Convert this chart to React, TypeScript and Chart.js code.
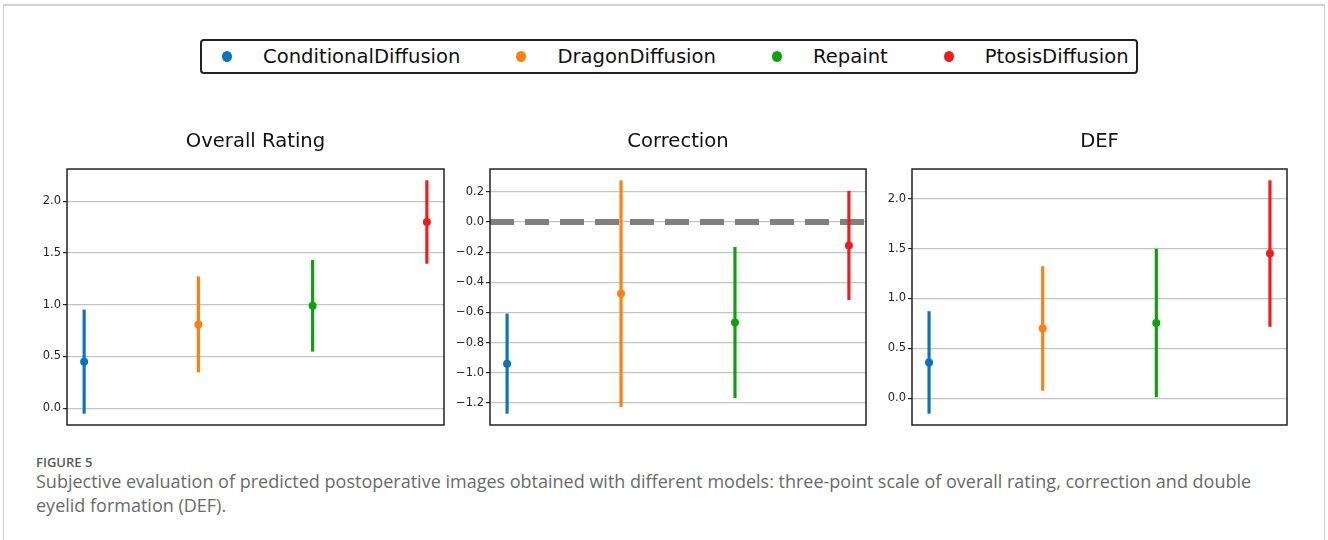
import React, { useEffect, useRef } from 'react';
import { Chart, registerables } from 'chart.js';

Chart.register(...registerables);

// ---------- data ----------
const categories = ['ConditionalDiffusion', 'DragonDiffusion', 'Repaint', 'PtosisDiffusion'];
const seriesColors = ['#0b72bc', '#ff7f0e', '#0ea00e', '#f01c1c'];
const positions = [0, 1, 2, 3];

const overallMean = [0.45, 0.81, 0.99, 1.8];
const overallErr = [0.5, 0.46, 0.44, 0.4];

const correctionMean = [-0.94, -0.475, -0.667, -0.155];
const correctionErr = [0.33, 0.75, 0.5, 0.36];

const defMean = [0.36, 0.7, 0.755, 1.45];
const defErr = [0.51, 0.62, 0.74, 0.73];

const overallTicks = [0, 0.5, 1.0, 1.5, 2.0];
const correctionTicks = [-1.2, -1.0, -0.8, -0.6, -0.4, -0.2, 0, 0.2];
const defTicks = [0, 0.5, 1.0, 1.5, 2.0];

const correctionReference = 0;

// ---------- layout constants ----------
const AXIS_W = 46;
const PAD_R = 4;
const PAD_B = 4;
const CANVAS_TOP = 120;
const PLOT_BOTTOM = 425;

const fmt = (v: number) => {
  const s = Math.abs(v).toFixed(1);
  return v < -1e-9 ? '\u2212' + s : s;
};

const framePlugin = {
  id: 'frame',
  afterDatasetsDraw(chart: any) {
    const { ctx, chartArea } = chart;
    const { left, top, right, bottom } = chartArea;
    ctx.save();
    ctx.strokeStyle = '#222222';
    ctx.lineWidth = 1.5;
    ctx.strokeRect(left, top, right - left, bottom - top);
    ctx.restore();
  },
};

type PanelProps = {
  title: string;
  mean: number[];
  err: number[];
  ticks: number[];
  refLine?: number;
  plotLeft: number;
  plotRight: number;
};

function Panel({ title, mean, err, ticks, refLine, plotLeft, plotRight }: PanelProps) {
  const ref = useRef<HTMLCanvasElement>(null);
  const width = AXIS_W + (plotRight - plotLeft) + PAD_R;
  const height = PLOT_BOTTOM + PAD_B - CANVAS_TOP;

  useEffect(() => {
    if (!ref.current) return;
    const lows = mean.map((m, i) => m - err[i]);
    const highs = mean.map((m, i) => m + err[i]);
    const lo = Math.min(...lows);
    const hi = Math.max(...highs);
    const yPad = (hi - lo) * 0.05;
    const xSpan = positions[positions.length - 1] - positions[0];
    const xMin = positions[0] - xSpan * 0.05;
    const xMax = positions[positions.length - 1] + xSpan * 0.05;

    const datasets: any[] = [
      {
        type: 'scatter',
        label: 'mean',
        data: positions.map((x, i) => ({ x, y: mean[i] })),
        pointRadius: 4,
        pointHoverRadius: 4,
        pointBackgroundColor: seriesColors,
        pointBorderWidth: 0,
        order: 1,
      },
      {
        type: 'bar',
        label: 'err',
        data: positions.map((x, i) => ({ x, y: [lows[i], highs[i]] })),
        backgroundColor: seriesColors,
        borderWidth: 0,
        barThickness: 2.5,
        grouped: false,
        order: 2,
      },
    ];
    if (refLine !== undefined) {
      datasets.push({
        type: 'line',
        label: 'ref',
        data: [
          { x: xMin, y: refLine },
          { x: xMax, y: refLine },
        ],
        borderColor: '#808080',
        borderWidth: 6,
        borderDash: [24, 11],
        borderCapStyle: 'butt',
        pointRadius: 0,
        fill: false,
        order: 3,
        clip: 0,
      });
    }

    const chart = new Chart(ref.current, {
      type: 'bar',
      data: { labels: categories, datasets },
      plugins: [framePlugin],
      options: {
        animation: false,
        responsive: false,
        maintainAspectRatio: false,
        events: [],
        layout: { padding: { left: 0, right: PAD_R, top: 0, bottom: PAD_B } },
        plugins: {
          legend: { display: false },
          tooltip: { enabled: false },
          title: {
            display: true,
            text: title,
            fullSize: false,
            color: '#111111',
            font: { family: 'DejaVu Sans', size: 19.6, weight: 'normal' },
            padding: { top: 10.5, bottom: 15 },
          },
        },
        scales: {
          x: {
            type: 'linear',
            min: xMin,
            max: xMax,
            offset: false,
            display: false,
          },
          y: {
            type: 'linear',
            min: lo - yPad,
            max: hi + yPad,
            afterBuildTicks: (s: any) => {
              s.ticks = ticks.map((v) => ({ value: v }));
            },
            afterFit: (s: any) => {
              s.width = AXIS_W;
              s.paddingTop = 0;
              s.paddingBottom = 0;
            },
            border: { display: false },
            grid: {
              color: '#c4c4c4',
              lineWidth: 1.2,
              tickLength: 4,
              tickColor: '#222222',
              tickWidth: 1.2,
              drawTicks: true,
            },
            ticks: {
              color: '#262626',
              font: { family: 'DejaVu Sans', size: 11.5 },
              padding: 2,
              callback: (v: any) => fmt(Number(v)),
            },
          },
        },
      } as any,
    });
    return () => chart.destroy();
  }, []);

  return (
    <canvas
      ref={ref}
      width={width}
      height={height}
      style={{
        position: 'absolute',
        left: plotLeft - AXIS_W,
        top: CANVAS_TOP,
        width,
        height,
      }}
    />
  );
}

export default function App() {
  return (
    <div
      style={{
        position: 'absolute',
        left: 0,
        top: 0,
        width: 1328,
        height: 540,
        background: '#ffffff',
        overflow: 'hidden',
        fontFamily: 'DejaVu Sans',
      }}
    >
      <div
        style={{
          position: 'absolute',
          left: 3,
          top: 4,
          width: 1322,
          height: 560,
          borderTop: '2px solid #d2d2d2',
          borderLeft: '1px solid #d2d2d2',
          borderRight: '1px solid #d2d2d2',
          boxSizing: 'border-box',
        }}
      />
      <div
        style={{
          position: 'absolute',
          left: 200,
          top: 39,
          width: 938,
          height: 35,
          boxSizing: 'border-box',
          border: '2px solid #222222',
          borderRadius: 4,
          display: 'flex',
          alignItems: 'center',
          paddingLeft: 20,
          fontFamily: 'DejaVu Sans',
          fontSize: 19.6,
          color: '#111111',
          whiteSpace: 'nowrap',
        }}
      >
        {categories.map((c, i) => (
          <div key={c} style={{ display: 'flex', alignItems: 'center', marginLeft: i === 0 ? 0 : 56 }}>
            <span
              style={{
                display: 'inline-block',
                width: 10,
                height: 11,
                borderRadius: '50%',
                background: seriesColors[i],
                marginRight: 31,
              }}
            />
            <span>{c}</span>
          </div>
        ))}
      </div>

      <Panel title="Overall Rating" mean={overallMean} err={overallErr} ticks={overallTicks} plotLeft={67} plotRight={444} />
      <Panel
        title="Correction"
        mean={correctionMean}
        err={correctionErr}
        ticks={correctionTicks}
        refLine={correctionReference}
        plotLeft={490}
        plotRight={866}
      />
      <Panel title="DEF" mean={defMean} err={defErr} ticks={defTicks} plotLeft={912} plotRight={1287} />

      <div
        style={{
          position: 'absolute',
          left: 36,
          top: 452,
          fontFamily: 'Open Sans',
          fontWeight: 600,
          fontSize: 13,
          lineHeight: '20px',
          color: '#5a5a5a',
        }}
      >
        FIGURE 5
      </div>
      <div
        style={{
          position: 'absolute',
          left: 36,
          top: 469,
          width: 1245,
          fontFamily: 'Open Sans',
          fontSize: 18,
          lineHeight: '24px',
          color: '#6a6a6a',
        }}
      >
        Subjective evaluation of predicted postoperative images obtained with different models: three-point scale of overall rating, correction and double eyelid formation (DEF).
      </div>
    </div>
  );
}
